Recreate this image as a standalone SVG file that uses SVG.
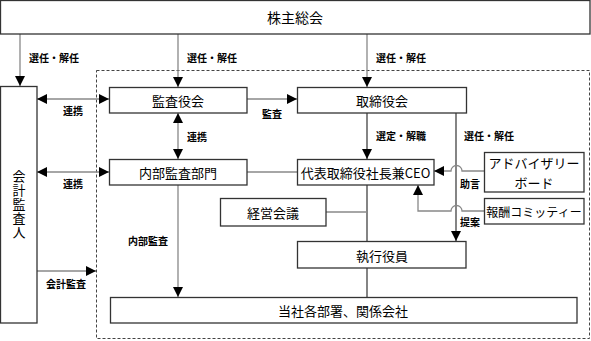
<svg xmlns="http://www.w3.org/2000/svg" width="591" height="341" viewBox="0 0 591 341">
<defs>
<marker id="ah" markerWidth="10" markerHeight="10" refX="10" refY="5" orient="auto-start-reverse" markerUnits="userSpaceOnUse">
<path d="M0,0 L10,5 L0,10 Z" fill="#000"/>
</marker>
</defs>
<style>
.box{fill:#fff;stroke:#333;stroke-width:1.3}
.bt{font-family:"Noto Sans CJK JP","Noto Sans CJK SC",sans-serif;font-size:13px;fill:#000;text-anchor:middle;dominant-baseline:central}
.lb{font-family:"Noto Sans CJK JP","Noto Sans CJK SC",sans-serif;font-size:10px;font-weight:bold;fill:#000;text-anchor:middle;dominant-baseline:central}
.c{fill:none;stroke:#888;stroke-width:1.3}
.cd{fill:none;stroke:#333;stroke-width:1.2}
.a{marker-end:url(#ah)}
.ab{marker-start:url(#ah);marker-end:url(#ah)}
</style>
<rect x="96.5" y="70.5" width="493" height="268" fill="none" stroke="#444" stroke-width="1" stroke-dasharray="3,2"/>
<g id="connectors">
<path class="c a" d="M20,34 V86"/>
<path class="c a" d="M178,34 V87"/>
<path class="c a" d="M367,34 V87"/>
<path class="c ab" d="M37,99 H109"/>
<path class="c a" d="M247,99 H297"/>
<path class="c ab" d="M178,113 V159"/>
<path class="c ab" d="M37,172 H109"/>
<path class="c" d="M247,172 H297"/>
<path class="cd a" d="M367,113 V159"/>
<path class="cd a" d="M456,113 V241"/>
<path class="c a" d="M484,171 H462 A5.5,5.5 0 0 0 451,171 H434"/>
<path class="c a" d="M484,211 H462 A5.5,5.5 0 0 0 451,211 H418 V185"/>
<path class="cd" d="M367,185 V241"/>
<path class="c" d="M326,212 H367"/>
<path class="cd" d="M367,268 V297"/>
<path class="c a" d="M178,185 V297"/>
<path class="c a" d="M37,271 H96"/>
</g>
<g id="shareholders"><rect class="box" x="0.5" y="0.5" width="589.5" height="33.5"/><text class="bt" x="295" y="17" style="font-size:14px">株主総会</text></g>
<g id="auditor"><rect class="box" x="0.5" y="86.5" width="36.5" height="236.5"/>
<text class="bt" x="19" y="205" style="writing-mode:vertical-rl;letter-spacing:1px">会計監査人</text></g>
<g id="kansayaku"><rect class="box" x="109.5" y="87.5" width="137.5" height="25.5"/><text class="bt" x="178" y="100">監査役会</text></g>
<g id="board"><rect class="box" x="297.5" y="87.5" width="169" height="25.5"/><text class="bt" x="382" y="100">取締役会</text></g>
<g id="internal"><rect class="box" x="109.5" y="159.5" width="137.5" height="25.5"/><text class="bt" x="178" y="172">内部監査部門</text></g>
<g id="ceo"><rect class="box" x="297.5" y="159.5" width="136.5" height="25.5"/><text class="bt" x="365.5" y="172">代表取締役社長兼CEO</text></g>
<g id="advisory"><rect class="box" x="484.5" y="152.5" width="99.5" height="39.5"/><text class="bt" x="534" y="162.5">アドバイザリー</text><text class="bt" x="534" y="182.5">ボード</text></g>
<g id="comp"><rect class="box" x="484.5" y="198.5" width="99.5" height="25.5"/><text class="bt" x="534" y="211" style="font-size:12px">報酬コミッティー</text></g>
<g id="mgmt"><rect class="box" x="220.5" y="198.5" width="105.5" height="27.5"/><text class="bt" x="273" y="212">経営会議</text></g>
<g id="officers"><rect class="box" x="297.5" y="241.5" width="168.5" height="26.5"/><text class="bt" x="382" y="255">執行役員</text></g>
<g id="depts"><rect class="box" x="110.5" y="297.5" width="466.5" height="25.5"/><text class="bt" x="343" y="310">当社各部署、関係会社</text></g>
<g id="labels">
<text class="lb" x="54" y="57">選任・解任</text>
<text class="lb" x="212" y="57">選任・解任</text>
<text class="lb" x="401" y="57">選任・解任</text>
<text class="lb" x="73" y="110">連携</text>
<text class="lb" x="272" y="113">監査</text>
<text class="lb" x="197" y="136">連携</text>
<text class="lb" x="73" y="183">連携</text>
<text class="lb" x="401" y="135">選定・解職</text>
<text class="lb" x="489" y="135">選任・解任</text>
<text class="lb" x="470" y="183">助言</text>
<text class="lb" x="470" y="221">提案</text>
<text class="lb" x="148" y="240">内部監査</text>
<text class="lb" x="66" y="283">会計監査</text>
</g>
</svg>
